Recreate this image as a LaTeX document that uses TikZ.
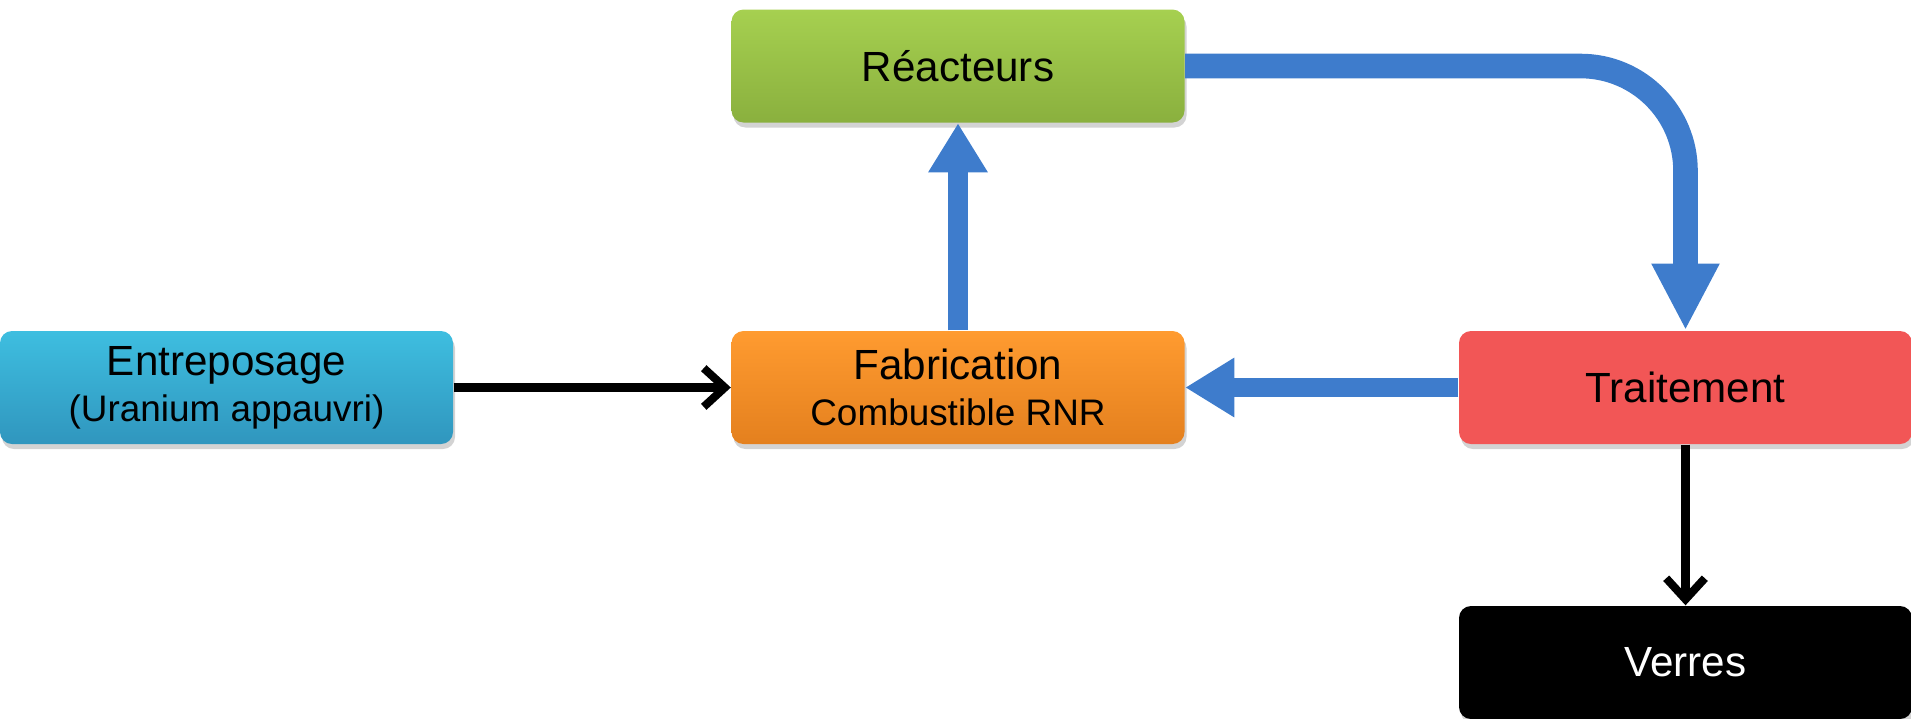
\documentclass[tikz,border=0pt]{standalone}
\usepackage{fontspec}
\setmainfont{Liberation Sans}
\usetikzlibrary{arrows.meta,shadows}

\definecolor{reacgreen}{RGB}{166,208,80}
\definecolor{reacgreendk}{RGB}{138,176,62}
\definecolor{stockblue}{RGB}{62,190,224}
\definecolor{stockbluedk}{RGB}{48,150,190}
\definecolor{fabrorange}{RGB}{255,155,48}
\definecolor{fabrorangedk}{RGB}{228,128,30}
\definecolor{traitred}{RGB}{242,86,86}
\definecolor{flowblue}{RGB}{62,124,204}

\tikzset{
  stage/.style={rounded corners=0.12cm, minimum width=4.53cm, minimum height=1.13cm,
    inner sep=0pt, align=center, font=\fontsize{12}{14}\selectfont,
    drop shadow={opacity=0.35, shadow xshift=0.02cm, shadow yshift=-0.05cm}},
  bigflow/.style={line width=5.5pt, draw=flowblue, line join=round,
    -{Triangle[length=14pt, width=16pt, fill=flowblue]}},
  plainflow/.style={line width=2.3pt, -{Straight Barb[length=6pt, width=11pt]}}
}

\newcommand{\smallline}[1]{{\fontsize{10.5}{13}\selectfont #1}}

\begin{document}
\begin{tikzpicture}
    \useasboundingbox (0,0) rectangle (19.11,-7.18);

    \node[stage, top color=reacgreen, bottom color=reacgreendk] (rea) at (9.58,-0.66) {R\'eacteurs};
    \node[stage, top color=stockblue, bottom color=stockbluedk] (ent) at (2.265,-3.875)
      {Entreposage\\[-1pt]\smallline{(Uranium appauvri)}};
    \node[stage, top color=fabrorange, bottom color=fabrorangedk] (fab) at (9.58,-3.875)
      {Fabrication\\[-1pt]\smallline{Combustible RNR}};
    \node[stage, fill=traitred] (trt) at (16.855,-3.875) {Traitement};
    \node[stage, fill=black, text=white] (ver) at (16.855,-6.625) {Verres};

    \draw[plainflow] (ent) -- (fab);
    \draw[plainflow] (trt) -- (ver);

    \draw[bigflow] (fab) -- (rea);
    \draw[bigflow] (trt) -- (fab);
    \draw[bigflow, line width=7pt, rounded corners=1.05cm,
      -{Triangle[length=19pt, width=18pt, fill=flowblue]}] (rea.east) -| (trt.north);

  \end{tikzpicture}
\end{document}
